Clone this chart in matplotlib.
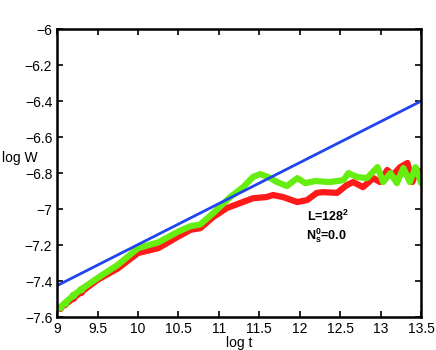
import matplotlib
matplotlib.use("Agg")
import matplotlib.pyplot as plt

plt.rcParams['font.family'] = ['Liberation Sans', 'DejaVu Sans']
plt.rcParams['mathtext.fontset'] = 'custom'
plt.rcParams['mathtext.rm'] = 'Liberation Sans'
plt.rcParams['mathtext.bf'] = 'Liberation Sans:bold'

# fitted line end points
fit_x = [9.0, 13.5]
fit_y = [-7.425, -6.40]

green_x = [9.04, 9.1, 9.2, 9.3, 9.5, 9.75, 10.0, 10.25, 10.5, 10.65, 10.77,
           10.93, 11.14, 11.30, 11.42, 11.51, 11.61, 11.72, 11.84, 11.97, 12.07,
           12.19, 12.37, 12.54, 12.60, 12.71, 12.83, 12.96, 13.03, 13.12, 13.20,
           13.28, 13.36, 13.43, 13.5]
green_y = [-7.544, -7.52, -7.48, -7.445, -7.383, -7.31, -7.217, -7.185, -7.124,
           -7.095, -7.085, -7.022, -6.933, -6.878, -6.822, -6.806, -6.822, -6.85,
           -6.872, -6.828, -6.856, -6.844, -6.85, -6.839, -6.80, -6.822, -6.828,
           -6.767, -6.85, -6.80, -6.856, -6.772, -6.85, -6.767, -6.856]

red_x = [9.04, 9.1, 9.2, 9.3, 9.5, 9.75, 10.0, 10.25, 10.5, 10.65, 10.77, 10.93,
         11.10, 11.26, 11.42, 11.59, 11.67, 11.79, 11.97, 12.09, 12.21, 12.29,
         12.46, 12.58, 12.66, 12.78, 12.91, 12.99, 13.08, 13.15, 13.24, 13.33,
         13.39, 13.45, 13.5]
red_y = [-7.548, -7.53, -7.495, -7.46, -7.393, -7.33, -7.244, -7.217, -7.152,
         -7.115, -7.106, -7.044, -6.994, -6.967, -6.94, -6.933, -6.922, -6.933,
         -6.961, -6.95, -6.91, -6.906, -6.91, -6.867, -6.85, -6.878, -6.828,
         -6.85, -6.783, -6.811, -6.767, -6.744, -6.85, -6.783, -6.8]

xticks = [9, 9.5, 10, 10.5, 11, 11.5, 12, 12.5, 13, 13.5]
xlabels = ['9', '9.5', '10', '10.5', '11', '11.5', '12', '12.5', '13', '13.5']
yticks = [-7.6, -7.4, -7.2, -7, -6.8, -6.6, -6.4, -6.2, -6]
ylabels = ['\u22127.6', '\u22127.4', '\u22127.2', '\u22127', '\u22126.8',
           '\u22126.6', '\u22126.4', '\u22126.2', '\u22126']

fig = plt.figure(figsize=(4.36, 3.5), dpi=100)
ax = fig.add_axes([0.131, 0.094, 0.835, 0.823])

ax.plot(red_x, red_y, color='#ff1a1a', lw=4.5, solid_capstyle='round',
        solid_joinstyle='round', marker='o', ms=4, markevery=range(0, 4))
ax.plot(green_x, green_y, color='#66ee11', lw=4.5, solid_capstyle='round',
        solid_joinstyle='round', marker='o', ms=4.5, markevery=range(0, 4))
ax.plot(fit_x, fit_y, color='#2244ee', lw=2)

ax.text(12.35, -7.04, r'L=128$\mathbf{^{2}}$', ha='center', va='center',
        fontsize=9, fontweight='bold')
ax.text(12.33, -7.148, r'N$\mathbf{_{s}^{0}}$=0.0', ha='center', va='center',
        fontsize=9, fontweight='bold')

ax.set_xlim(9, 13.5)
ax.set_ylim(-7.6, -6)
ax.set_xticks(xticks)
ax.set_xticklabels(xlabels)
ax.set_yticks(yticks)
ax.set_yticklabels(ylabels)
ax.tick_params(direction='in', top=True, right=True, labelsize=10, width=1.2, length=4)
for s in ax.spines.values():
    s.set_linewidth(1.8)

ax.set_xlabel('log t', fontsize=10, labelpad=0)
fig.text(0.005, 0.548, 'log W', fontsize=10, ha='left', va='center')

fig.savefig('out.png', dpi=100)
